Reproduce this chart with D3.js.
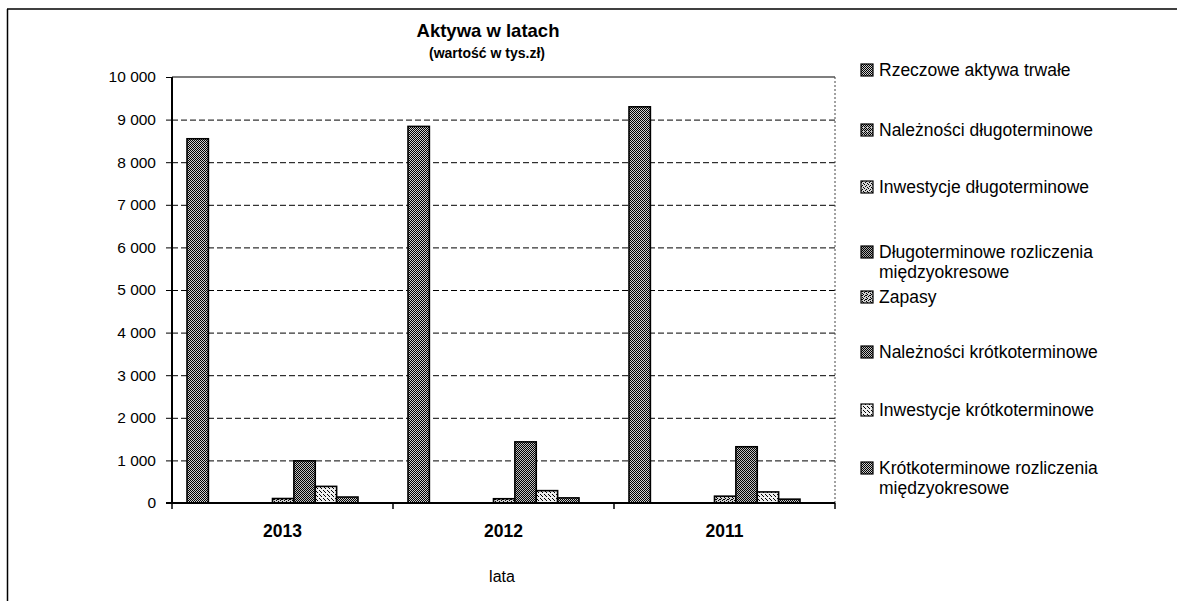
<!DOCTYPE html>
<html><head><meta charset="utf-8">
<script src="https://cdn.jsdelivr.net/npm/d3@7"></script>
<style>body{margin:0;background:#fff}svg{display:block;font-family:"Liberation Sans",Arial,sans-serif}</style>
</head><body><svg id="c" width="1177" height="601"></svg>
<script>
const years = ["2013", "2012", "2011"];
const seriesNames = [
  "Rzeczowe aktywa trwałe",
  "Należności długoterminowe",
  "Inwestycje długoterminowe",
  "Długoterminowe rozliczenia międzyokresowe",
  "Zapasy",
  "Należności krótkoterminowe",
  "Inwestycje krótkoterminowe",
  "Krótkoterminowe rozliczenia międzyokresowe"
];
const rzeczowe = [8550, 8840, 9300];
const naleznosciDl = [0, 0, 0];
const inwestycjeDl = [4, 3, 4];
const dlRozliczenia = [0, 0, 0];
const zapasy = [105, 100, 160];
const naleznosciKr = [990, 1435, 1320];
const inwestycjeKr = [390, 290, 260];
const krRozliczenia = [140, 120, 90];
const yTicks = [0,1000,2000,3000,4000,5000,6000,7000,8000,9000,10000];
const series = [rzeczowe, naleznosciDl, inwestycjeDl, dlRozliczenia, zapasy, naleznosciKr, inwestycjeKr, krRozliczenia];

const svg = d3.select("#c");
const defs = svg.append("defs");
function pat(id, dots, bg) {
  const p = defs.append("pattern").attr("id", id).attr("patternUnits","userSpaceOnUse").attr("width",4).attr("height",4);
  p.append("rect").attr("width",4).attr("height",4).attr("fill",bg);
  dots.forEach(([x,y]) => p.append("rect").attr("x",x).attr("y",y).attr("width",1).attr("height",1).attr("fill","#000"));
}
pat("p0", [[0,0],[2,0],[1,1],[3,1],[0,2],[2,2],[1,3],[3,3]], "#d0d0d0");
pat("p1", [[0,0],[2,0],[1,1],[3,1],[0,2],[2,2],[1,3]], "#c0c0c0");
pat("p2", [[0,0],[2,1],[1,2],[3,3]], "#d8d8d8");
pat("p3", [[0,0],[2,0],[1,1],[3,1],[0,2],[2,2],[1,3],[3,3]], "#aaa");
pat("p4", [[0,0],[2,1],[3,2],[1,3],[2,3]], "#d0d0d0");
pat("p5", [[0,0],[2,0],[1,1],[3,1],[0,2],[2,2],[1,3],[3,3]], "#c0c0c0");
pat("p6", [[1,0],[3,2],[0,3]], "#eeeeee");
pat("p7", [[0,0],[2,0],[1,1],[3,1],[0,2],[2,2],[1,3],[3,3]], "#cccccc");

svg.append("line").attr("x1",7).attr("x2",1177).attr("y1",9).attr("y2",9).attr("stroke","#000").attr("stroke-width",1.5);
svg.append("line").attr("x1",7.5).attr("x2",7.5).attr("y1",9).attr("y2",601).attr("stroke","#000").attr("stroke-width",1.5);

const L = 172, R = 835, T = 77, B = 503;
const y = d3.scaleLinear().domain([0, 10000]).range([B, T]);
const x0 = d3.scaleBand().domain(years).range([L, R]).padding(0);
const x1 = d3.scaleBand().domain(d3.range(seriesNames.length)).range([15, 186]).padding(0);

svg.append("g").selectAll("line").data(yTicks.filter(d => d > 0 && d < 10000)).join("line")
  .attr("x1", L).attr("x2", R).attr("y1", d => y(d)+0.5).attr("y2", d => y(d)+0.5)
  .attr("stroke","#000").attr("stroke-width",1).attr("stroke-dasharray","6,3");
svg.append("line").attr("x1",L).attr("x2",R).attr("y1",y(10000)).attr("y2",y(10000)).attr("stroke","#000").attr("stroke-width",1.2);
svg.append("line").attr("x1",R).attr("x2",R).attr("y1",T).attr("y2",B).attr("stroke","#444").attr("stroke-width",1).attr("stroke-dasharray","2,2");

years.forEach((yr, i) => {
  const g = svg.append("g").attr("transform", `translate(${x0(yr)},0)`);
  g.selectAll("rect").data(series.map((s, k) => ({k, v: s[i]}))).join("rect")
    .attr("x", d => x1(d.k)).attr("width", x1.bandwidth())
    .attr("y", d => y(d.v)).attr("height", d => Math.max(0, B - y(d.v)))
    .attr("fill", d => `url(#p${d.k})`).attr("stroke","#000").attr("stroke-width",1.6);
});

const ya = svg.append("g").attr("transform", `translate(${L},0)`)
  .call(d3.axisLeft(y).tickValues(yTicks).tickSize(6).tickPadding(10).tickFormat(d => d3.format(",")(d).replace(/,/g, " ")));
ya.select(".domain").attr("stroke-width",2).attr("d", `M0,${T}V${B}`);
ya.selectAll("text").attr("font-size",15.5).attr("fill","#000").attr("font-family","Liberation Sans, Arial");
const xa = svg.append("g").attr("transform", `translate(0,${B})`);
xa.append("line").attr("x1",L-6).attr("x2",R).attr("stroke","#000").attr("stroke-width",2);
const bounds = years.map(d => x0(d)).concat([R]);
xa.selectAll("line.t").data(bounds).join("line").attr("class","t")
  .attr("x1", d => d).attr("x2", d => d).attr("y1",0).attr("y2",6).attr("stroke","#000").attr("stroke-width",1.5);
xa.selectAll("text").data(years).join("text")
  .attr("x", d => x0(d) + x0.bandwidth()/2).attr("y", 34).attr("text-anchor","middle")
  .attr("font-size",17.5).attr("font-weight","bold").text(d => d);
svg.append("text").attr("x",502).attr("y",582).attr("text-anchor","middle").attr("font-size",16).text("lata");

svg.append("text").attr("x",488).attr("y",37).attr("text-anchor","middle").attr("font-size",18.5).attr("font-weight","bold").text("Aktywa w latach");
svg.append("text").attr("x",487).attr("y",58).attr("text-anchor","middle").attr("font-size",14).attr("font-weight","bold").text("(wartość w tys.zł)");

const legendY = [76, 136, 193, 258, 303, 358, 416, 474];
const legendLines = [
  ["Rzeczowe aktywa trwałe"],
  ["Należności długoterminowe"],
  ["Inwestycje długoterminowe"],
  ["Długoterminowe rozliczenia", "międzyokresowe"],
  ["Zapasy"],
  ["Należności krótkoterminowe"],
  ["Inwestycje krótkoterminowe"],
  ["Krótkoterminowe rozliczenia", "międzyokresowe"]
];
const lg = svg.append("g");
seriesNames.forEach((n, k) => {
  const gy = legendY[k];
  lg.append("rect").attr("x",861).attr("y",gy-12).attr("width",12).attr("height",12)
    .attr("fill",`url(#p${k})`).attr("stroke","#000").attr("stroke-width",1.2);
  const t = lg.append("text").attr("x",879).attr("y",gy).attr("font-size",17.5);
  legendLines[k].forEach((ln, j) => t.append("tspan").attr("x",879).attr("dy", j ? 20 : 0).text(ln));
});
</script></body></html>
